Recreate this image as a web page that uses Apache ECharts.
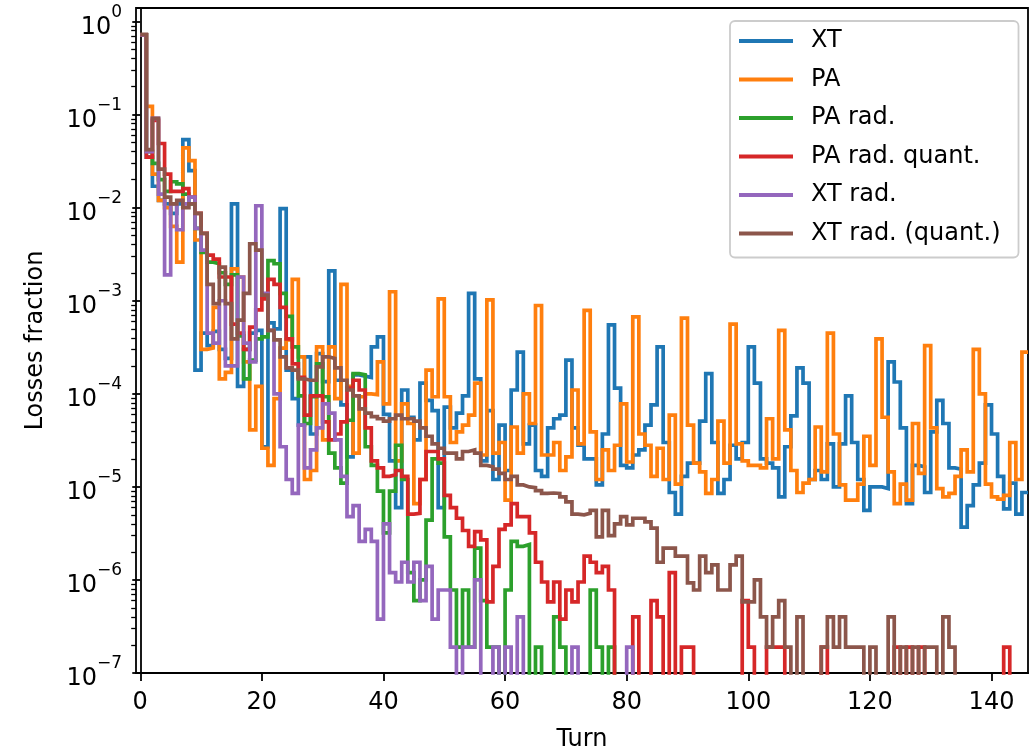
<!DOCTYPE html>
<html><head><meta charset="utf-8">
<script src="https://cdn.jsdelivr.net/npm/echarts@6/dist/echarts.min.js"></script>
<style>html,body{margin:0;padding:0;background:#fff}#c{width:1030px;height:752px}</style>
</head><body><div id="c"></div>
<script>
// Turn index of each bin (bin t spans [t, t+1])
const turns = [0,1,2,3,4,5,6,7,8,9,10,11,12,13,14,15,16,17,18,19,20,21,22,23,24,25,26,27,28,29,30,31,32,33,34,35,36,37,38,39,40,41,42,43,44,45,46,47,48,49,50,51,52,53,54,55,56,57,58,59,60,61,62,63,64,65,66,67,68,69,70,71,72,73,74,75,76,77,78,79,80,81,82,83,84,85,86,87,88,89,90,91,92,93,94,95,96,97,98,99,100,101,102,103,104,105,106,107,108,109,110,111,112,113,114,115,116,117,118,119,120,121,122,123,124,125,126,127,128,129,130,131,132,133,134,135,136,137,138,139,140,141,142,143,144,145];

const xt = [0.72,0.035,0.017,0.012,0.011,0.0087,0.011,0.054,0.025,1.8e-4,
 4.5e-4,3.3e-4,4.7e-4,3.0e-4,2.4e-4,1.1e-2,1.2e-4,3.0e-4,4.5e-4,4.8e-4,
 2.7e-5,5.8e-4,5.0e-4,9.8e-3,1.8e-4,8.9e-5,4.6e-5,2.5e-4,3.7e-5,2.7e-4,
 1.35e-4,2.1e-3,1.4e-4,7.6e-5,2.1e-5,1.6e-4,1.55e-4,1.5e-4,3.2e-4,4.1e-4,
 6e-5,1.9e-5,6.0e-6,1.1e-4,5.6e-5,3.2e-5,1.3e-4,8.5e-5,6.6e-5,6.0e-6,
 7.2e-5,4.3e-5,6.2e-5,9.5e-5,1.2e-3,1.45e-4,1.9e-5,6.6e-5,1.2e-5,4.6e-5,
 1.5e-5,1.1e-4,2.8e-4,2.9e-5,4.6e-5,1.5e-5,1.3e-5,4.3e-5,5.4e-5,5.9e-5,
 2.3e-4,4.3e-5,2.8e-5,2.0e-5,2.0e-5,1.05e-5,3.7e-5,5.5e-4,1.15e-4,1.7e-5,
 1.6e-5,2.2e-5,2.5e-5,4.6e-5,7.6e-5,3.2e-4,3.0e-5,8.7e-6,5.1e-6,1.3e-5,
 1.8e-5,1.8e-5,5.1e-5,1.65e-4,3.0e-5,8.5e-6,1.2e-5,2.8e-5,2.0e-5,3.0e-5,
 3.2e-4,1.3e-4,2.0e-5,1.8e-5,1.6e-5,7.8e-6,2.7e-5,5.8e-5,1.9e-4,1.3e-4,
 1.2e-5,1.5e-5,1.2e-5,2.9e-5,1.0e-5,2.9e-5,9.5e-5,3.0e-5,1.2e-5,5.6e-6,
 1.0e-5,1.0e-5,9.6e-6,2.2e-4,1.34e-4,4.3e-5,6.6e-6,1.7e-5,1.65e-5,8.7e-6,
 3.9e-5,8.5e-5,4.8e-5,1.6e-5,1.55e-5,3.7e-6,6.3e-6,1.05e-5,1.8e-5,7.6e-5,
 3.7e-5,1.3e-5,5.8e-6,1.1e-5,5.1e-6,8.7e-6];

const pa = [0.72,0.123,0.023,0.012,0.010,0.0063,0.0026,0.044,0.032,0.0045,
 3.0e-4,3.1e-4,8.5e-4,1.45e-4,1.7e-4,2.2e-3,1.8e-3,2.2e-4,4.1e-5,1.2e-4,
 2.6e-5,1.7e-5,8.9e-5,3.1e-4,3.8e-4,1.7e-3,2.5e-4,1.2e-5,1.5e-5,3.2e-4,
 3.2e-5,3.2e-4,8.9e-5,1.5e-3,1.2e-4,2.3e-5,9.3e-5,1.0e-4,9.8e-5,2.2e-4,
 7.8e-5,1.25e-3,1.9e-5,7.8e-5,4.8e-5,6.6e-6,1.2e-5,1.8e-4,9.3e-5,1.05e-3,
 9.3e-5,3.0e-5,3.9e-5,4.6e-5,5.9e-5,1.3e-4,2.2e-5,1.02e-3,2.3e-5,3.0e-5,
 7.2e-6,4.4e-5,2.3e-5,1.0e-4,4.8e-5,8.9e-4,2.2e-5,2.2e-5,3.0e-5,1.5e-5,
 2.1e-5,1.1e-4,2.9e-5,7.9e-4,3.9e-5,1.2e-5,2.5e-5,1.5e-5,2.8e-5,7.8e-5,
 1.85e-5,6.7e-4,3.7e-5,2.8e-5,1.3e-5,2.6e-5,1.2e-5,5.9e-5,1.07e-5,6.5e-4,
 4.6e-5,1.8e-5,1.45e-5,8.5e-6,1.2e-5,5.1e-5,1.8e-5,5.6e-4,2.9e-5,1.9e-5,
 1.7e-5,1.7e-5,1.6e-5,5.4e-5,2.0e-5,4.8e-4,4.1e-5,1.5e-5,8.7e-6,1.1e-5,
 1.2e-5,4.4e-5,1.45e-5,4.5e-4,3.7e-5,1.05e-5,7.2e-6,7.2e-6,1.07e-5,3.5e-5,
 1.7e-5,3.9e-4,5.6e-5,1.45e-5,6.6e-6,1.07e-5,7.2e-6,4.8e-5,1.4e-5,3.3e-4,
 4.3e-5,9.6e-6,7.8e-6,8.5e-6,1.3e-5,2.5e-5,1.45e-5,3.0e-4,1.0e-4,1.07e-5,
 7.8e-6,7.4e-6,8.1e-6,3.0e-5,1.2e-5,2.8e-4];

const paRad = [0.72,0.04,0.03,0.02,0.015,0.019,0.018,0.014,0.011,0.006,
 0.0033,0.0026,0.0025,0.002,0.0015,0.0019,4.2e-4,1.45e-4,2.3e-4,3.9e-4,
 4.1e-4,2.7e-3,2.5e-3,1.2e-3,6.8e-4,3.2e-4,9.5e-5,4.8e-5,9.3e-5,2.1e-4,
 9.3e-5,2.3e-5,1.6e-5,1.1e-5,5.2e-5,1.65e-4,1.6e-4,2.7e-5,1.7e-5,9e-6,
 3.2e-6,9e-6,2.8e-5,1.2e-5,1.2e-6,6e-7,1e-6,4.4e-6,2.0e-5,1.8e-5,
 2.9e-6,7.8e-7,1.9e-7,7.8e-7,1.9e-7,2.2e-6,6e-7,1.9e-7,1.9e-7,0,
 7.8e-7,2.6e-6,2.3e-6,2.4e-6,0,1.9e-7,0,0,4e-7,1.9e-7,
 0,0,0,0,7.8e-7,1.9e-7,0,1.9e-7,0,0,
 0,0,0,0,0,0,0,0,0,0,
 0,0,0,0,0,0,0,0,0,0,
 0,0,0,0,0,0,0,0,0,0,
 0,0,0,0,0,0,0,0,0,0,
 0,0,0,0,0,0,0,0,0,0,
 0,0,0,0,0,0,0,0,0,0,
 0,0,0,0,0,0];

const paRadQuant = [0.72,0.035,0.087,0.049,0.023,0.015,0.015,0.016,0.013,0.0087,
 0.0053,0.0031,0.0028,0.0018,0.0018,5.6e-4,4.5e-4,3.0e-4,5.2e-4,8e-4,
 1.05e-3,1.7e-3,1.5e-3,8.5e-4,3.9e-4,2.1e-4,1.5e-4,5.9e-5,9.5e-5,9.5e-5,
 5.0e-5,3.2e-5,3.7e-5,5.0e-5,1.15e-4,1.4e-4,1.1e-4,4.3e-5,1.9e-5,1.6e-5,
 1.3e-5,1.35e-5,1.5e-5,1.3e-5,5.1e-6,5.2e-6,1.2e-5,2.4e-5,2.4e-5,2.0e-5,
 8.1e-6,6.0e-6,4.6e-6,3.4e-6,2.3e-6,3.3e-6,2.7e-6,5.8e-7,1.4e-6,3.5e-6,
 3.9e-6,6.6e-6,4.8e-6,4.8e-6,3.2e-6,1.55e-6,9.5e-7,5.8e-7,9.5e-7,3.8e-7,
 7.8e-7,5.8e-7,9.5e-7,1.8e-6,1.55e-6,1.2e-6,1.4e-6,7.8e-7,0,0,
 0,4e-7,0,0,6e-7,4e-7,0,1.2e-6,0,1.9e-7,
 1.9e-7,0,0,0,0,0,0,0,0,6e-7,
 1.9e-7,0,0,1.9e-7,1.9e-7,1.9e-7,0,0,0,0,
 0,0,1.9e-7,0,0,0,0,0,0,0,
 0,0,0,0,1.9e-7,0,1.9e-7,0,1.9e-7,0,
 0,0,0,0,0,0,0,0,0,0,
 0,0,1.9e-7,0,0,0];

const xtRad = [0.72,0.04,0.091,0.014,0.0019,0.011,0.0058,0.011,0.013,0.006,
 0.0035,4.5e-4,3.5e-4,1.0e-3,2.0e-4,2.0e-4,1.8e-3,3.5e-4,2.2e-4,1.05e-2,
 1.2e-3,4.8e-4,1.0e-4,2.7e-5,1.2e-5,8.5e-6,4.6e-5,1.6e-5,2.5e-5,4.3e-5,
 7.8e-5,6.2e-5,3.2e-5,1.3e-5,4.8e-6,6.3e-6,2.6e-6,3.5e-6,2.6e-6,3.8e-7,
 4.0e-6,1.2e-6,9.5e-7,1.55e-6,9.5e-7,1.55e-6,6e-7,1.4e-6,3.8e-7,7.8e-7,
 7.8e-7,1.9e-7,0,1.9e-7,1.9e-7,1e-6,0,0,1.9e-7,0,
 1.9e-7,0,4e-7,0,0,0,0,0,0,0,
 0,1.9e-7,0,0,0,0,0,0,0,0,
 1.9e-7,0,0,0,0,0,0,0,0,0,
 0,0,0,0,0,0,0,0,0,0,
 0,0,0,0,0,0,0,0,0,0,
 0,0,0,0,0,0,0,0,0,0,
 0,0,0,0,0,0,0,0,0,0,
 0,0,0,0,0,0,0,0,0,0,
 0,0,0,0,0,0];

const xtRadQuant = [0.73,0.042,0.091,0.026,0.013,0.011,0.012,0.010,0.011,0.0087,
 0.0053,0.0015,9.3e-4,0.0023,9.3e-4,3.9e-4,6.2e-4,1.2e-3,4.1e-3,3.5e-3,
 1.15e-3,4.8e-4,3.8e-4,2.5e-4,1.9e-4,1.8e-4,1.45e-4,1.4e-4,1.4e-4,1.95e-4,
 2.5e-4,2.4e-4,1.9e-4,1.4e-4,1.1e-4,9.5e-5,6.9e-5,6.2e-5,5.7e-5,5.4e-5,
 5.1e-5,5.4e-5,5.9e-5,5.4e-5,5.4e-5,5.1e-5,4.3e-5,3.5e-5,2.9e-5,2.6e-5,
 2.3e-5,2.3e-5,2.0e-5,2.4e-5,2.5e-5,2.3e-5,1.7e-5,1.65e-5,1.55e-5,1.4e-5,
 1.2e-5,1.3e-5,1.05e-5,1.0e-5,9.8e-6,9.1e-6,8.5e-6,8.6e-6,8.5e-6,7.8e-6,
 6.9e-6,5.1e-6,5.0e-6,5.2e-6,5.6e-6,2.9e-6,5.6e-6,3.0e-6,4.0e-6,4.8e-6,
 3.9e-6,4.6e-6,4.6e-6,4.2e-6,3.6e-6,1.55e-6,2.2e-6,2.2e-6,1.8e-6,1.8e-6,
 9.3e-7,7.8e-7,1.8e-6,1.2e-6,1.45e-6,7.8e-7,7.8e-7,1.45e-6,1.8e-6,5.8e-7,
 5.8e-7,1.0e-6,4e-7,1.9e-7,4e-7,6e-7,1.9e-7,0,4e-7,0,
 0,0,1.9e-7,4e-7,1.9e-7,4e-7,1.9e-7,1.9e-7,1.9e-7,0,
 1.9e-7,0,0,4e-7,0,1.9e-7,0,1.9e-7,0,1.9e-7,
 1.9e-7,0,4e-7,1.9e-7,0,0,0,0,0,0,
 0,0,0,0,0,0];

const seriesNames = ['XT','PA','PA rad.','PA rad. quant.','XT rad.','XT rad. (quant.)'];
const seriesValues = [xt, pa, paRad, paRadQuant, xtRad, xtRadQuant];
const colors = ['#1f77b4','#ff7f0e','#2ca02c','#d62728','#9467bd','#8c564b'];

const xTickLabels = [0,20,40,60,80,100,120,140];
const yMajorTicks = [1e-7,1e-6,1e-5,1e-4,1e-3,1e-2,1e-1,1];
const yMinorTicks = [];
yMajorTicks.slice(0,-1).forEach(d => { for (let k = 2; k <= 9; k++) yMinorTicks.push(+(k*d).toPrecision(3)); });

const FONT = 'DejaVu Sans';
const FS = 24;
const FLOOR = 1e-12; // zero bins fall below the axis and are clipped, like the reference

function stepData(vals){
  const d = turns.map((t,i) => [t, vals[i] > 0 ? vals[i] : FLOOR]);
  const last = vals[vals.length-1];
  d.push([turns[turns.length-1] + 1, last > 0 ? last : FLOOR]);
  return d;
}

function supLabel(v){
  const e = Math.round(Math.log10(v));
  return '{b|10}{s|' + (e < 0 ? '\u2212' + (-e) : String(e)) + '}';
}

const chart = echarts.init(document.getElementById('c'), null, {renderer:'canvas'});
chart.setOption({
  animation: false,
  backgroundColor: '#ffffff',
  grid: { left: 136, top: 8, width: 892, height: 665, outerBoundsMode: 'none', containLabel: false,
          show: true, borderColor: '#000', borderWidth: 1.8, backgroundColor: 'transparent' },
  xAxis: {
    type: 'value', min: -0.7, max: 146,
    name: 'Turn', nameLocation: 'middle', nameGap: 55,
    nameTextStyle: { fontFamily: FONT, fontSize: FS, color: '#000' },
    axisLine: { show: true, onZero: false, lineStyle: { color: '#000', width: 1.8 } },
    axisTick: { show: true, customValues: xTickLabels, length: 8, lineStyle: { color: '#000', width: 1.8 } },
    axisLabel: { customValues: xTickLabels, margin: 18, fontFamily: FONT, fontSize: FS, color: '#000' },
    splitLine: { show: false }
  },
  yAxis: [{
    type: 'log', logBase: 10, min: 1e-7, max: 1.4,
    name: 'Losses fraction', nameLocation: 'middle', nameGap: 88, nameRotate: 90,
    nameTextStyle: { fontFamily: FONT, fontSize: FS, color: '#000' },
    axisLine: { show: true, lineStyle: { color: '#000', width: 1.8 } },
    axisTick: { show: true, customValues: yMajorTicks, length: 8, lineStyle: { color: '#000', width: 1.8 } },
    axisLabel: {
      customValues: yMajorTicks, margin: 14, formatter: supLabel,
      rich: {
        b: { fontFamily: FONT, fontSize: FS, color: '#000', lineHeight: 36, verticalAlign: 'bottom' },
        s: { fontFamily: FONT, fontSize: 17, color: '#000', lineHeight: 36, verticalAlign: 'top' }
      }
    },
    splitLine: { show: false }, minorTick: { show: false }
  }, {
    type: 'log', logBase: 10, min: 1e-7, max: 1.4, position: 'left',
    axisLine: { show: false },
    axisTick: { show: true, customValues: yMinorTicks, length: 4.8, lineStyle: { color: '#000', width: 1.3 } },
    axisLabel: { show: false },
    splitLine: { show: false }
  }],
  legend: {
    orient: 'vertical', left: 730, top: 21,
    itemWidth: 54, itemHeight: 3.8, itemGap: 10.5, icon: 'rect',
    padding: [6, 18, 10, 9],
    backgroundColor: 'rgba(255,255,255,0.8)', borderColor: '#cccccc', borderWidth: 1.8, borderRadius: 5,
    textStyle: { fontFamily: FONT, fontSize: FS, color: '#000', lineHeight: 28, padding: [0, 0, 0, 13] },
    data: seriesNames
  },
  series: seriesValues.map((vals, i) => ({
    name: seriesNames[i], type: 'line', step: 'end',
    data: stepData(vals), yAxisIndex: 0,
    showSymbol: false, symbol: 'none', clip: true,
    color: colors[i],
    lineStyle: { color: colors[i], width: 3.7, join: 'miter' },
    emphasis: { disabled: true }
  }))
});
</script></body></html>
